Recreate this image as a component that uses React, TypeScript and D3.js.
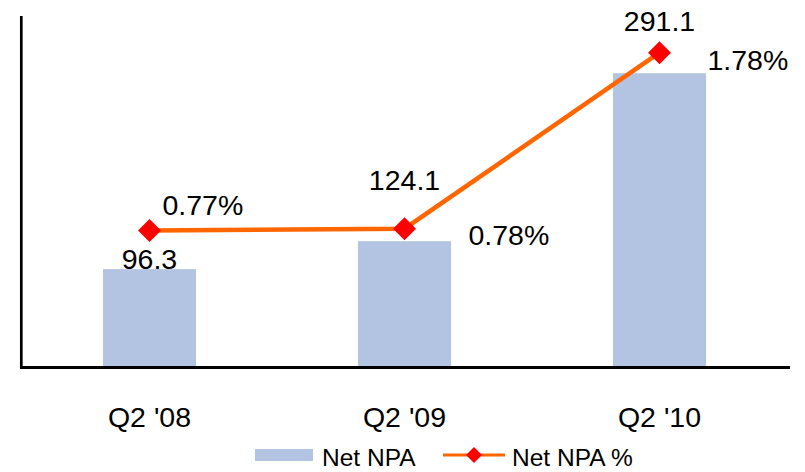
import React from "react";
import * as d3 from "d3";

const categories = ["Q2 '08", "Q2 '09", "Q2 '10"];
const netNpa = [96.3, 124.1, 291.1];
const netNpaPct = [0.77, 0.78, 1.78];
const barLabels = ["96.3", "124.1", "291.1"];
const pctLabels = ["0.77%", "0.78%", "1.78%"];
const legendLabels = ["Net NPA", "Net NPA %"];

const W = 805;
const H = 472;
const FONT = "'Liberation Sans', Arial, sans-serif";
const BAR_COLOR = "#B3C3E2";
const LINE_COLOR = "#FF6600";
const MARKER_COLOR = "#FF0000";
const LABEL_SIZE = 28.5;
const LEGEND_SIZE = 24.5;

// label placement offsets (layout, not data)
const barLabelDy = [0, -51, -42];
const pctLabelPos = [
  { dx: 13, dy: -15, anchor: "start" },
  { dx: 64, dy: 16, anchor: "start" },
  { dx: 48, dy: 17, anchor: "start" },
];

export default function App() {
  const x = d3.scaleBand<string>().domain(categories).range([22, 787]).padding(0);
  const y = d3.scaleLinear().domain([0, 350]).range([366, 14]);
  const y2 = d3.scaleLinear().domain([0, 2]).range([366, 14]);
  const barW = x.bandwidth() * 0.365;
  const cx = (c: string) => (x(c) as number) + x.bandwidth() / 2;

  const line = d3
    .line<number>()
    .x((_, i) => cx(categories[i]))
    .y((d) => y2(d));

  const diamond = (px: number, py: number, r: number) =>
    `M${px},${py - r}L${px + r},${py}L${px},${py + r}L${px - r},${py}Z`;

  return (
    <svg
      width={W}
      height={H}
      style={{ position: "absolute", left: 0, top: 0, background: "#fff" }}
      fontFamily={FONT}
    >
      {categories.map((c, i) => (
        <rect
          key={c}
          x={cx(c) - barW / 2}
          y={y(netNpa[i])}
          width={barW}
          height={y(0) - y(netNpa[i])}
          fill={BAR_COLOR}
        />
      ))}
      {/* axes */}
      <line x1={21.3} x2={21.3} y1={16} y2={368} stroke="#000" strokeWidth={2.7} />
      <line x1={20} x2={790} y1={367.5} y2={367.5} stroke="#000" strokeWidth={3} />
      {/* line series */}
      <path d={line(netNpaPct) || ""} fill="none" stroke={LINE_COLOR} strokeWidth={4.5} />
      {netNpaPct.map((v, i) => (
        <path key={i} d={diamond(cx(categories[i]), y2(v), 11.5)} fill={MARKER_COLOR} />
      ))}
      {/* bar labels */}
      {categories.map((c, i) => (
        <text
          key={"b" + c}
          x={cx(c)}
          y={y(netNpa[i]) + barLabelDy[i]}
          textAnchor="middle"
          fontSize={LABEL_SIZE}
          fill="#000"
        >
          {barLabels[i]}
        </text>
      ))}
      {/* pct labels */}
      {categories.map((c, i) => (
        <text
          key={"p" + c}
          x={cx(c) + pctLabelPos[i].dx}
          y={y2(netNpaPct[i]) + pctLabelPos[i].dy}
          textAnchor={pctLabelPos[i].anchor as any}
          fontSize={LABEL_SIZE}
          fill="#000"
        >
          {pctLabels[i]}
        </text>
      ))}
      {/* category labels */}
      {categories.map((c) => (
        <text key={"c" + c} x={cx(c)} y={427} textAnchor="middle" fontSize={LABEL_SIZE} fill="#000">
          {c}
        </text>
      ))}
      {/* legend */}
      <rect x={255} y={449} width={58} height={12} fill={BAR_COLOR} />
      <text x={322} y={466} fontSize={LEGEND_SIZE} fill="#000">
        {legendLabels[0]}
      </text>
      <line x1={443} x2={505} y1={455} y2={455} stroke={LINE_COLOR} strokeWidth={3} />
      <path d={diamond(474, 455, 8)} fill={MARKER_COLOR} />
      <text x={512} y={466} fontSize={LEGEND_SIZE} fill="#000">
        {legendLabels[1]}
      </text>
    </svg>
  );
}
